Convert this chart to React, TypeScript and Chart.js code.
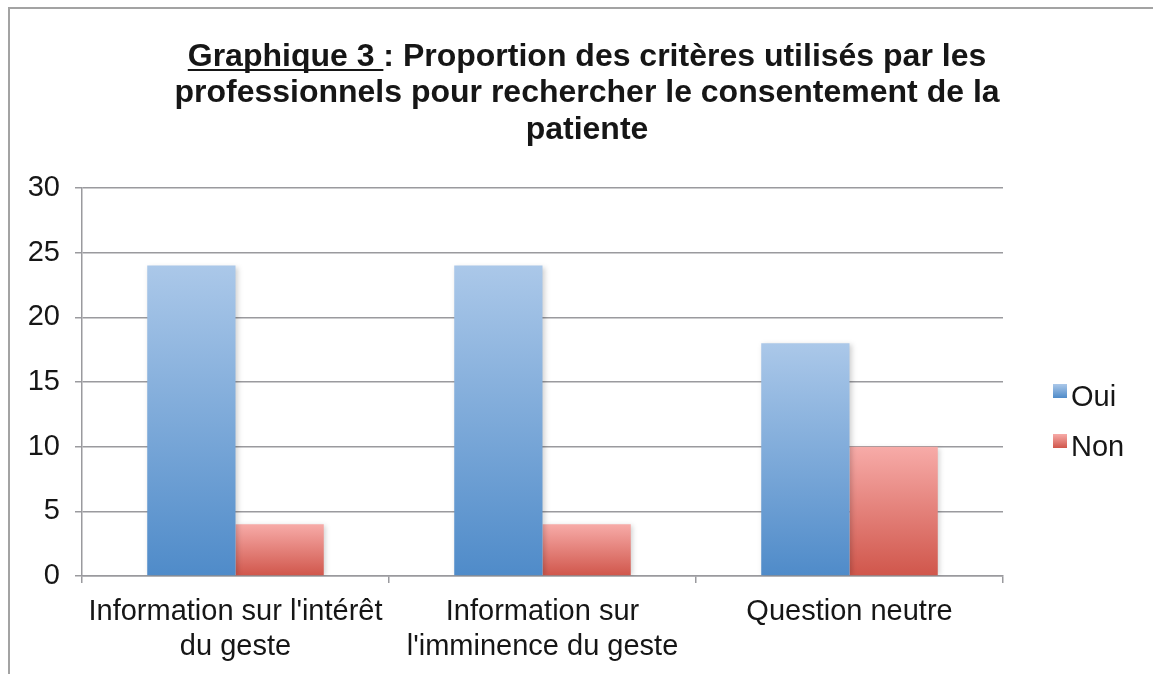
import React, { useEffect, useRef } from 'react';
import { Chart, registerables } from 'chart.js';

Chart.register(...registerables);

const categories: (string | string[])[] = [
  ["Information sur l'intérêt", 'du geste'],
  ['Information sur', "l'imminence du geste"],
  'Question neutre',
];
const seriesNames = ['Oui', 'Non'];
const ouiValues = [24, 24, 18];
const nonValues = [4, 4, 10];
const yMin = 0;
const yMax = 30;
const yStep = 5;
const titleLines = [
  'Graphique 3 : Proportion des critères utilisés par les',
  'professionnels pour rechercher le consentement de la',
  'patiente',
];
const titleUnderlined = 'Graphique 3 ';

const FONT = '"Liberation Sans", Arial, Helvetica, sans-serif';
const TEXT = '#161616';
const GRID = '#9a9a9e';

const BLUE_TOP = '#abc8e9';
const BLUE_BOTTOM = '#4f8bc9';
const RED_TOP = '#f7aba8';
const RED_BOTTOM = '#d0564b';

const makeBg = (top: string, bottom: string) => (ctx: any) => {
  const chart = ctx.chart;
  const y = chart.scales && chart.scales.y;
  if (!y || ctx.type !== 'data') return bottom;
  const v = ctx.raw as number;
  const y0 = y.getPixelForValue(0);
  const y1 = y.getPixelForValue(v);
  if (!isFinite(y0) || !isFinite(y1) || y0 === y1) return bottom;
  const g = chart.ctx.createLinearGradient(0, y1, 0, y0);
  g.addColorStop(0, top);
  g.addColorStop(1, bottom);
  return g;
};

const legendColors = [
  [BLUE_TOP, BLUE_BOTTOM],
  [RED_TOP, RED_BOTTOM],
];

const decor = {
  id: 'decor',
  beforeDraw(chart: any) {
    const c = chart.ctx;
    c.save();
    c.fillStyle = '#ffffff';
    c.fillRect(0, 0, chart.width, chart.height);
    c.strokeStyle = '#a3a3a3';
    c.lineWidth = 2;
    c.beginPath();
    c.moveTo(9, chart.height);
    c.lineTo(9, 8);
    c.lineTo(chart.width, 8);
    c.stroke();
    c.restore();
  },
  beforeDatasetsDraw(chart: any) {
    const c = chart.ctx;
    c.save();
    c.shadowColor = 'rgba(0,0,0,0.18)';
    c.shadowBlur = 5;
    c.shadowOffsetX = 2;
    c.shadowOffsetY = 1;
  },
  afterDatasetsDraw(chart: any) {
    chart.ctx.restore();
  },
  afterDraw(chart: any) {
    const c = chart.ctx;
    c.save();
    // Title
    const cx = 587;
    const baselines = [65.5, 102, 138.5];
    c.font = `bold 32px ${FONT}`;
    c.fillStyle = TEXT;
    c.textBaseline = 'alphabetic';
    c.textAlign = 'left';
    titleLines.forEach((line, i) => {
      const w = c.measureText(line).width;
      const x0 = cx - w / 2;
      c.fillText(line, x0, baselines[i]);
      if (i === 0) {
        const uw = c.measureText(titleUnderlined).width;
        c.fillRect(x0, baselines[i] + 3.5, uw, 2);
      }
    });
    // Legend
    c.font = `29px ${FONT}`;
    c.textBaseline = 'middle';
    const legendY = [397, 447];
    chart.data.datasets.forEach((ds: any, i: number) => {
      const y = legendY[i];
      const g = c.createLinearGradient(0, y - 13, 0, y + 1);
      g.addColorStop(0, legendColors[i][0]);
      g.addColorStop(1, legendColors[i][1]);
      c.fillStyle = g;
      c.fillRect(1053, y - 13, 14, 14);
      c.fillStyle = TEXT;
      c.fillText(ds.label, 1071, y + 1);
    });
    c.restore();
  },
};

export default function App() {
  const ref = useRef<HTMLCanvasElement | null>(null);
  useEffect(() => {
    document.body.style.margin = '0';
    const canvas = ref.current;
    if (!canvas) return;
    const chart = new Chart(canvas, {
      type: 'bar',
      data: {
        labels: categories,
        datasets: [
          {
            label: seriesNames[0],
            data: ouiValues,
            backgroundColor: makeBg(BLUE_TOP, BLUE_BOTTOM),
            borderWidth: 0,
            categoryPercentage: 0.575,
            barPercentage: 1.0,
          },
          {
            label: seriesNames[1],
            data: nonValues,
            backgroundColor: makeBg(RED_TOP, RED_BOTTOM),
            borderWidth: 0,
            categoryPercentage: 0.575,
            barPercentage: 1.0,
          },
        ],
      },
      options: {
        animation: false,
        responsive: false,
        maintainAspectRatio: false,
        devicePixelRatio: 1,
        layout: { padding: { left: 10, top: 188, right: 150, bottom: 0 } },
        plugins: {
          legend: { display: false },
          title: { display: false },
          tooltip: { enabled: false },
        },
        scales: {
          x: {
            afterFit: (s: any) => {
              s.height = 98;
            },
            grid: {
              display: true,
              drawOnChartArea: false,
              drawTicks: true,
              tickLength: 7,
              color: GRID,
              lineWidth: 1.5,
              offset: true,
            },
            border: { display: true, color: GRID, width: 1.5 },
            ticks: {
              color: TEXT,
              font: { family: FONT, size: 29, lineHeight: 1.2 },
              padding: 12,
              maxRotation: 0,
              autoSkip: false,
            },
          },
          y: {
            min: yMin,
            max: yMax,
            afterFit: (s: any) => {
              s.width = 72;
            },
            grid: {
              color: GRID,
              lineWidth: 1.5,
              drawTicks: true,
              tickLength: 7,
            },
            border: { display: true, color: GRID, width: 1.5 },
            ticks: {
              stepSize: yStep,
              color: TEXT,
              font: { family: FONT, size: 29 },
              padding: 15,
            },
          },
        },
      },
      plugins: [decor],
    });
    return () => chart.destroy();
  }, []);
  return (
    <div style={{ width: 1153, height: 674 }}>
      <canvas ref={ref} width={1153} height={674} style={{ display: 'block', width: 1153, height: 674 }} />
    </div>
  );
}
